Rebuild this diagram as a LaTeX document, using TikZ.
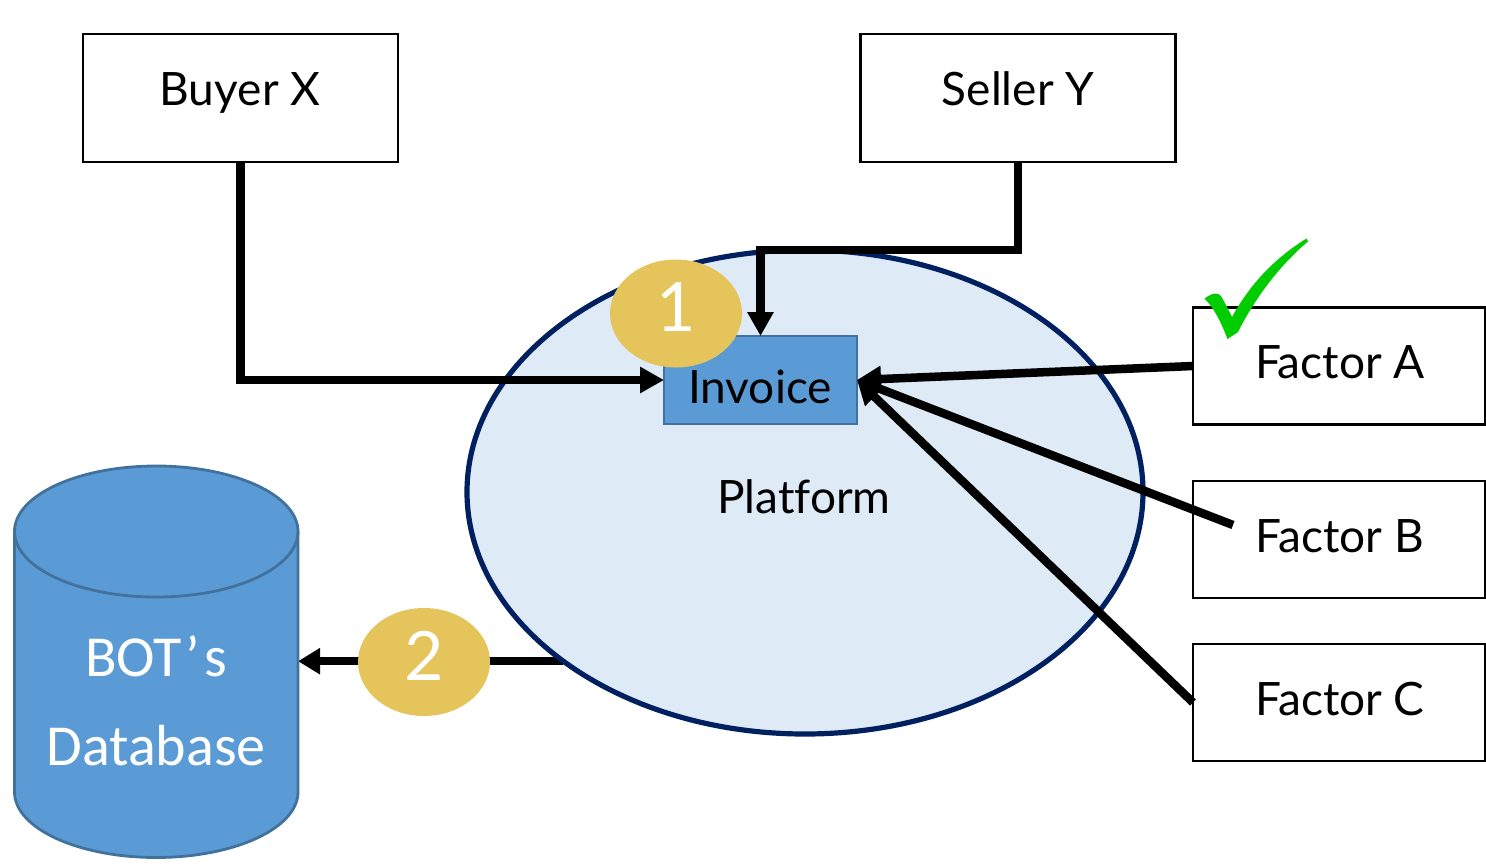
\documentclass[tikz,border=0pt]{standalone}
\usepackage{fontspec}
\setmainfont{Lato}[Ligatures=NoCommon]
\newfontfamily\carlito{Carlito}
\usetikzlibrary{arrows.meta,shapes.geometric}
\pgfdeclarelayer{under}
\pgfsetlayers{under,main}
\definecolor{bluefill}{HTML}{5B9BD5}
\definecolor{blueedge}{HTML}{41719C}
\definecolor{platfill}{HTML}{DEEAF6}
\definecolor{navy}{HTML}{002060}
\definecolor{gold}{HTML}{E5C45B}
\definecolor{tickgreen}{HTML}{00CC00}
\tikzset{
 x=1pt,y=-1pt,
 actor/.style={draw=black,fill=white,line width=2.8pt,inner sep=0,outer sep=0},
 badge/.style={ellipse,fill=gold,inner sep=0,outer sep=0,minimum width=132pt,minimum height=108pt},
 badgetext/.style={text=white,font=\fontsize{68}{70}\selectfont,inner sep=0,anchor=base},
 label/.style={inner sep=0,anchor=base,font=\fontsize{46}{50}\selectfont,text=black},
 dblabel/.style={inner sep=0,anchor=base,text=white,font=\carlito\fontsize{58}{62}\selectfont},
 flow/.style={line width=8.5pt,draw=black,-{Triangle[length=24pt,width=25pt]},miter limit=10},
}
\begin{document}
\begin{tikzpicture}
\useasboundingbox (0,0) rectangle (1486,865);
% database
\path[fill=bluefill,draw=blueedge,line width=2.8pt]
  (14.5,531.5) -- (14.5,792) arc[start angle=180,end angle=360,x radius=141.75,y radius=-65.5]
  -- (298,531.5) arc[start angle=0,end angle=180,x radius=141.75,y radius=-65.5] -- cycle;
\draw[blueedge,line width=2.8pt] (14.5,531.5) arc[start angle=180,end angle=360,x radius=141.75,y radius=-65.5];
\node[inner sep=0,outer sep=0,minimum width=283.5pt,minimum height=391pt] (db) at (156.25,662) {};
\node[dblabel] (dbt1) at (156,676) {BOT\kern4pt’\kern4pt s};
\node[dblabel] (dbt2) at (156,765.5) {Database};
% platform
\node[ellipse,draw=navy,fill=platfill,line width=5.2pt,inner sep=0,outer sep=0,minimum width=676pt,minimum height=484pt] (platform) at (805,492) {};
\node[label] (platlabel) at (804,513.5) {Platform};
\node[draw=blueedge,fill=bluefill,line width=2.8pt,inner sep=0,outer sep=0,minimum width=193pt,minimum height=88pt] (invoice) at (760.5,380) {};
\node[label] (invlabel) at (760,403) {Invoice};
% boxes
\node[actor,minimum width=315pt,minimum height=128pt] (buyer) at (240.5,98) {};
\node[label] at (240,105.5) {Buyer X};
\node[actor,minimum width=315pt,minimum height=128pt] (seller) at (1018,98) {};
\node[label] at (1018,105.5) {Seller Y};
\node[actor,minimum width=292pt,minimum height=117pt] (fa) at (1339,366) {};
\node[label] at (1340,378) {Factor A};
\node[actor,minimum width=292pt,minimum height=117pt] (fb) at (1339,539.5) {};
\node[label] at (1340,552) {Factor B};
\node[actor,minimum width=292pt,minimum height=117pt] (fc) at (1339,702.5) {};
\node[label] at (1340,715) {Factor C};
\coordinate (fbend) at (1233,525);
% connectors
\begin{pgfonlayer}{under}
\draw[line width=8.5pt,draw=black,-{Triangle[length=22pt,width=25pt]}] (platform.215.4) -- (platform.215.4 -| db.east);
\end{pgfonlayer}
\draw[flow] (buyer.south) |- (invoice.west);
\draw[flow] (seller.south) -- ++(0,88) -| (invoice.north);
\draw[flow] (fa.west) -- (invoice.east);
\draw[flow] (fbend) -- (invoice.east);
\draw[flow] (fc.west) -- (invoice.east);
% badges
\node[badge] (b1) at (676,313.5) {};
\node[badgetext] at (676,331) {1};
\node[badge] (b2) at (424,662) {};
\node[badgetext] at (424,680) {2};
% check mark
\fill[tickgreen] (1204.5,298.5) .. controls (1212,293) and (1218,292) .. (1221,296)
 .. controls (1225,303) and (1229,311) .. (1232,317)
 .. controls (1250,284) and (1275,258) .. (1306.5,238.5)
 -- (1308,241.5)
 .. controls (1280,265) and (1255,298) .. (1238,332)
 -- (1227.5,339)
 .. controls (1221,322) and (1214,308) .. (1204.5,298.5) -- cycle;
\end{tikzpicture}
\end{document}
